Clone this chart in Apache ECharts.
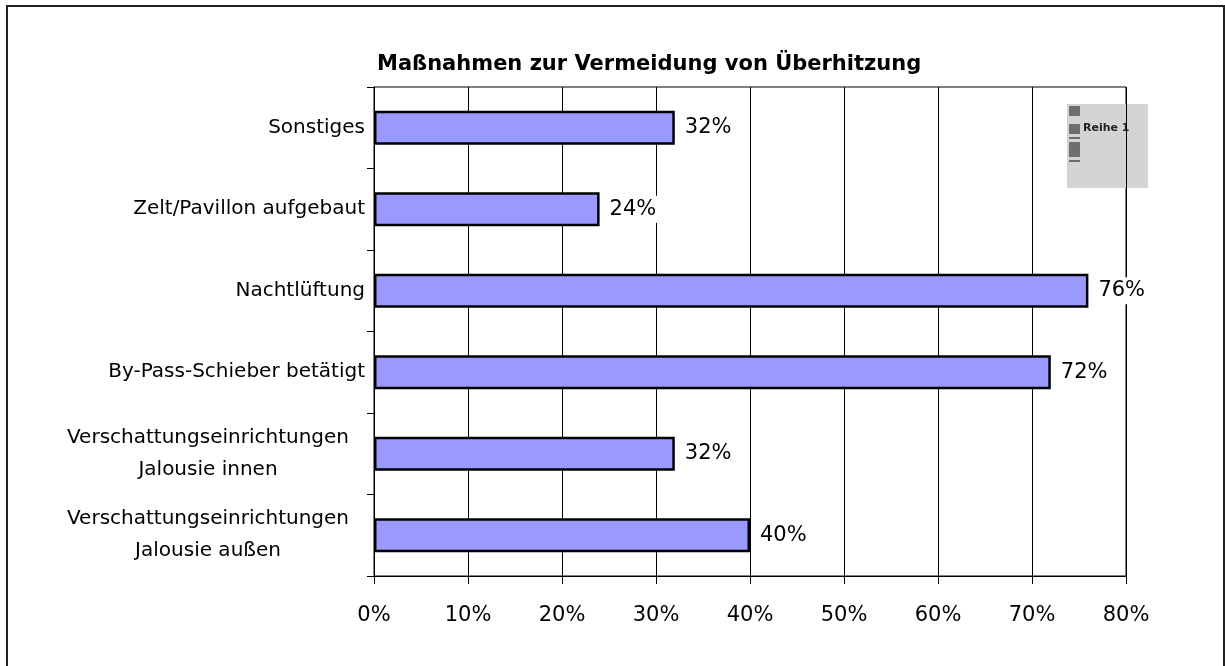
<!DOCTYPE html>
<html>
<head>
<meta charset="utf-8">
<script src="https://cdn.jsdelivr.net/npm/echarts@6/dist/echarts.min.js"></script>
<style>
  html, body { margin: 0; padding: 0; background: #fff; }
  #main { width: 1225px; height: 666px; }
</style>
</head>
<body>
<div id="main"></div>
<script>
// Kategorien von unten nach oben (Kategorieachse läuft bei Balken von unten)
const categories = [
  'Verschattungseinrichtungen\nJalousie außen',
  'Verschattungseinrichtungen\nJalousie innen',
  'By-Pass-Schieber betätigt',
  'Nachtlüftung',
  'Zelt/Pavillon aufgebaut',
  'Sonstiges'
]
const values = [40, 32, 72, 76, 24, 32]
const titleText = 'Maßnahmen zur Vermeidung von Überhitzung'
const legendText = 'Reihe 1'

const font = 'DejaVu Sans'
const chart = echarts.init(document.getElementById('main'))

// mehrzeilige Beschriftungen zentriert, etwas weiter von der Achse weg
function catLabel(val) {
  const lines = val.split('\n')
  const tag = lines.length > 1 ? 'm' : 'c'
  return lines.map((s) => '{' + tag + '|' + s + '}').join('\n')
}

const option = {
  animation: false,
  backgroundColor: '#fff',
  title: {
    text: titleText,
    left: 372,
    top: 49,
    textStyle: { fontFamily: font, fontSize: 21, fontWeight: 'bold', color: '#000' }
  },
  grid: {
    left: 374,
    right: 99,
    top: 87,
    bottom: 90,
    show: true,
    borderColor: '#000',
    borderWidth: 1
  },
  xAxis: {
    type: 'value',
    min: 0,
    max: 80,
    interval: 10,
    axisLine: { show: true, lineStyle: { color: '#000', width: 1 } },
    axisTick: { show: true, length: 8, lineStyle: { color: '#000' } },
    splitLine: { show: true, lineStyle: { color: '#000', width: 1 } },
    axisLabel: {
      formatter: '{value}%',
      margin: 29,
      fontFamily: font,
      fontSize: 21,
      color: '#000'
    }
  },
  yAxis: {
    type: 'category',
    data: categories,
    axisLine: { show: true, lineStyle: { color: '#000', width: 1 } },
    axisTick: { show: true, length: 7, lineStyle: { color: '#000' } },
    axisLabel: {
      margin: 9,
      color: '#000',
      fontFamily: font,
      fontSize: 20,
      lineHeight: 32,
      formatter: catLabel,
      rich: {
        c: { align: 'center', fontFamily: font, fontSize: 20, lineHeight: 32, color: '#000' },
        m: { align: 'center', fontFamily: font, fontSize: 20, lineHeight: 32, color: '#000', padding: [0, 16, 0, 0] }
      }
    }
  },
  series: [
    {
      type: 'bar',
      data: values,
      barWidth: 34,
      itemStyle: { color: '#9999ff', borderColor: '#000', borderWidth: 2.5 },
      label: {
        show: true,
        position: 'right',
        distance: 6,
        formatter: '{c}%',
        fontFamily: font,
        fontSize: 21,
        color: '#000',
        backgroundColor: '#fff',
        padding: [3, 4]
      }
    }
  ],
  graphic: [
    // Rahmen um das ganze Diagramm
    {
      type: 'rect',
      shape: { x: 7, y: 6, width: 1217, height: 720 },
      style: { fill: 'none', stroke: '#222', lineWidth: 2 },
      silent: true
    },
    // Legende (grauer Kasten)
    {
      type: 'group',
      left: 1067,
      top: 104,
      children: [
        { type: 'rect', shape: { x: 0, y: 0, width: 81, height: 84 }, style: { fill: '#d4d4d4' } },
        { type: 'rect', shape: { x: 2, y: 2, width: 11, height: 10 }, style: { fill: '#6e6e6e' } },
        { type: 'rect', shape: { x: 2, y: 20, width: 11, height: 10 }, style: { fill: '#6e6e6e' } },
        { type: 'rect', shape: { x: 2, y: 33, width: 11, height: 2 }, style: { fill: '#6e6e6e' } },
        { type: 'rect', shape: { x: 2, y: 38, width: 11, height: 15 }, style: { fill: '#6e6e6e' } },
        { type: 'rect', shape: { x: 2, y: 56, width: 11, height: 2 }, style: { fill: '#6e6e6e' } },
        {
          type: 'text',
          x: 16,
          y: 19,
          style: { text: legendText, fontFamily: font, fontSize: 11, fontWeight: 'bold', fill: '#222' }
        }
      ]
    }
  ]
}

chart.setOption(option)
</script>
</body>
</html>
